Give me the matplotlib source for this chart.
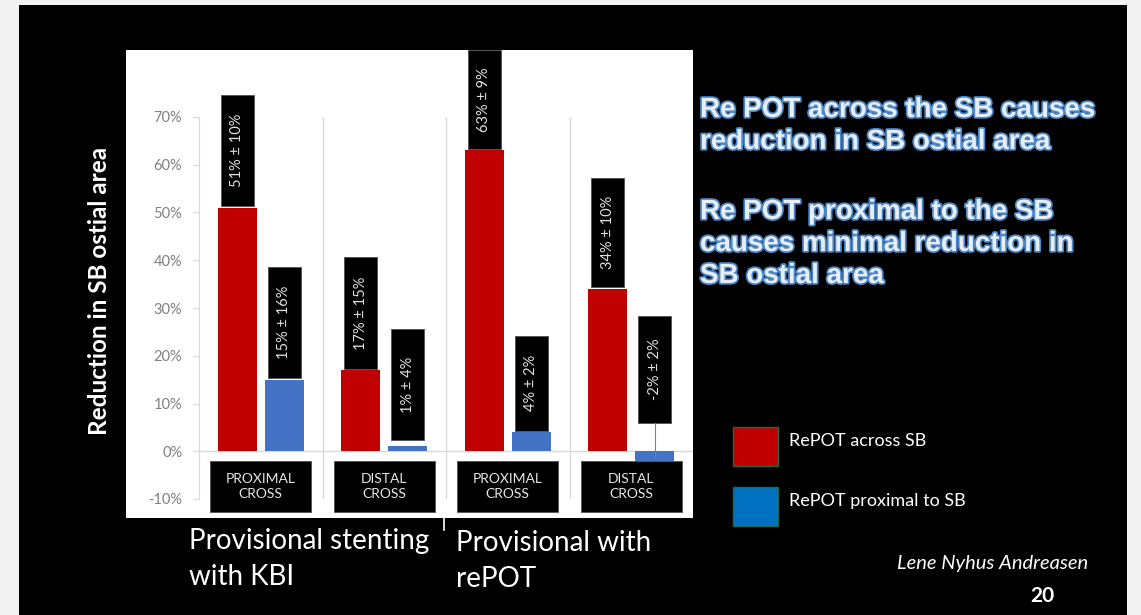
import numpy as np
import matplotlib
matplotlib.use('Agg')
import matplotlib.pyplot as plt
from matplotlib.patches import Rectangle
import matplotlib.patheffects as pe

# data
categories = ['PROXIMAL\nCROSS', 'DISTAL\nCROSS', 'PROXIMAL\nCROSS', 'DISTAL\nCROSS']
across_sb = [51, 17, 63, 34]
proximal_sb = [15, 1, 4, -2]
across_labels = ['51% ± 10%', '17% ± 15%', '63% ± 9%', '34% ± 10%']
proximal_labels = ['15% ± 16%', '1% ± 4%', '4% ± 2%', '-2% ± 2%']
yticks = [-10, 0, 10, 20, 30, 40, 50, 60, 70]
group_names = ['Provisional stenting\nwith KBI', 'Provisional with\nrePOT']
legend_names = ['RePOT across SB', 'RePOT proximal to SB']

RED = '#c00000'
BLUE = '#4472c4'
LEG_BLUE = '#0070c0'
GRID = '#d9d9d9'
W, H = 1141, 615

plt.rcParams['font.family'] = ['Lato', 'DejaVu Sans']

fig = plt.figure(figsize=(W / 100, H / 100), dpi=100)
fig.patch.set_facecolor('#f2f2f2')


def fx(px):
    return px / W


def fy(py):
    return 1 - py / H


# black slide
fig.add_artist(Rectangle((fx(19), 0), fx(1127) - fx(19), fy(5), transform=fig.transFigure,
                         facecolor='black', edgecolor='none', zorder=0))
# white chart panel
fig.add_artist(Rectangle((fx(126), fy(518)), fx(693) - fx(126), fy(50) - fy(518),
                         transform=fig.transFigure, facecolor='white', edgecolor='none', zorder=0))

ax = fig.add_axes([fx(199), fy(499), fx(693) - fx(199), fy(117) - fy(499)])
ax.set_facecolor('none')
ax.set_xlim(-0.5, 3.5)
ax.set_ylim(-10, 70)

x = np.arange(len(categories))
off = 0.19
bw = 0.315
ax.bar(x - off, across_sb, bw, color=RED, zorder=3)
ax.bar(x + off, proximal_sb, bw, color=BLUE, zorder=3)

ax.axhline(0, color=GRID, lw=1, zorder=1)
ax.vlines([0.5, 1.5, 2.5], -10, 70, color=GRID, lw=1, zorder=1)

for s in ['top', 'right', 'bottom']:
    ax.spines[s].set_visible(False)
ax.spines['left'].set_color(GRID)
ax.set_xticks([])
ax.set_yticks(yticks)
ax.set_yticklabels([f'{v}%' for v in yticks], color='#808080', fontsize=10.5)
ax.tick_params(axis='y', colors=GRID, labelcolor='#808080', length=4, pad=8)

# value label boxes
box_w = 0.267
box_h = [23.3, 23.3, 20.7, 23.0, 23.3, 23.3, 19.9, 22.4]
box_gap = [0, 0, 0, 0, 0, 1, 0, 5.6]
vals = across_sb + proximal_sb
labs = across_labels + proximal_labels
xs = list(x - off) + list(x + off)
for i, (xi, v, lab) in enumerate(zip(xs, vals, labs)):
    b0 = max(v, 0) + box_gap[i] + 0.3
    ax.add_patch(Rectangle((xi - box_w / 2, b0), box_w, box_h[i], facecolor='black',
                           edgecolor='#505050', lw=0.6, zorder=4, clip_on=False))
    ax.text(xi, b0 + box_h[i] / 2, lab, rotation=90, ha='center', va='center',
            color='#e0e0e0', fontsize=10.5, zorder=5, clip_on=False)
# leader line for negative value
ax.plot([x[3] + off, x[3] + off], [proximal_sb[3] / 2, 6], color='#6f8a6f', lw=0.8, zorder=4)

# category boxes
for xi, c in zip(x, categories):
    ax.add_patch(Rectangle((xi - 0.41, -12.8), 0.82, 10.7, facecolor='black',
                           edgecolor='#505050', lw=0.6, zorder=4, clip_on=False))
    ax.text(xi, -7.45, c, ha='center', va='center', color='#e6e6e6', fontsize=10,
            linespacing=1.3, zorder=5, clip_on=False)

# y label
fig.text(fx(100), fy(291), 'Reduction in SB ostial area', rotation=90, ha='center', va='center',
         color='white', fontsize=17.5, fontweight='bold')

# group names
fig.text(fx(189), fy(559), group_names[0], ha='left', va='center', color='white',
         fontsize=20, linespacing=1.5)
fig.text(fx(456), fy(561), group_names[1], ha='left', va='center', color='white',
         fontsize=20, linespacing=1.45)
fig.add_artist(plt.Line2D([fx(444), fx(444)], [fy(518), fy(530)], transform=fig.transFigure,
                          color='white', lw=1.2))

# right-side statements
fx_eff = [pe.withStroke(linewidth=2.5, foreground='#4a86c8')]
fig.text(fx(700), fy(126), 'Re POT across the SB causes\nreduction in SB ostial area',
         ha='left', va='center', color='#e8eef6', fontsize=20, fontweight='bold',
         family='Liberation Sans', linespacing=1.3, path_effects=fx_eff)
fig.text(fx(700), fy(244), 'Re POT proximal to the SB\ncauses minimal reduction in\nSB ostial area',
         ha='left', va='center', color='#e8eef6', fontsize=20, fontweight='bold',
         family='Liberation Sans', linespacing=1.3, path_effects=fx_eff)

# legend
for i, (name, col) in enumerate(zip(legend_names, [RED, LEG_BLUE])):
    y0 = 427 + i * 60
    fig.add_artist(Rectangle((fx(733), fy(y0 + 39)), fx(778) - fx(733), fy(y0) - fy(y0 + 39),
                             transform=fig.transFigure, facecolor=col, edgecolor='#1f6b4f', lw=1))
    fig.text(fx(789), fy(y0 + 14), name, ha='left', va='center', color='white', fontsize=13)

fig.text(fx(1088), fy(563), 'Lene Nyhus Andreasen', ha='right', va='center', color='white',
         fontsize=14.5, style='italic')
fig.text(fx(1042), fy(596), '20', ha='center', va='center', color='white', fontsize=15,
         fontweight='bold')

fig.savefig('out.png', dpi=100, facecolor=fig.get_facecolor())
